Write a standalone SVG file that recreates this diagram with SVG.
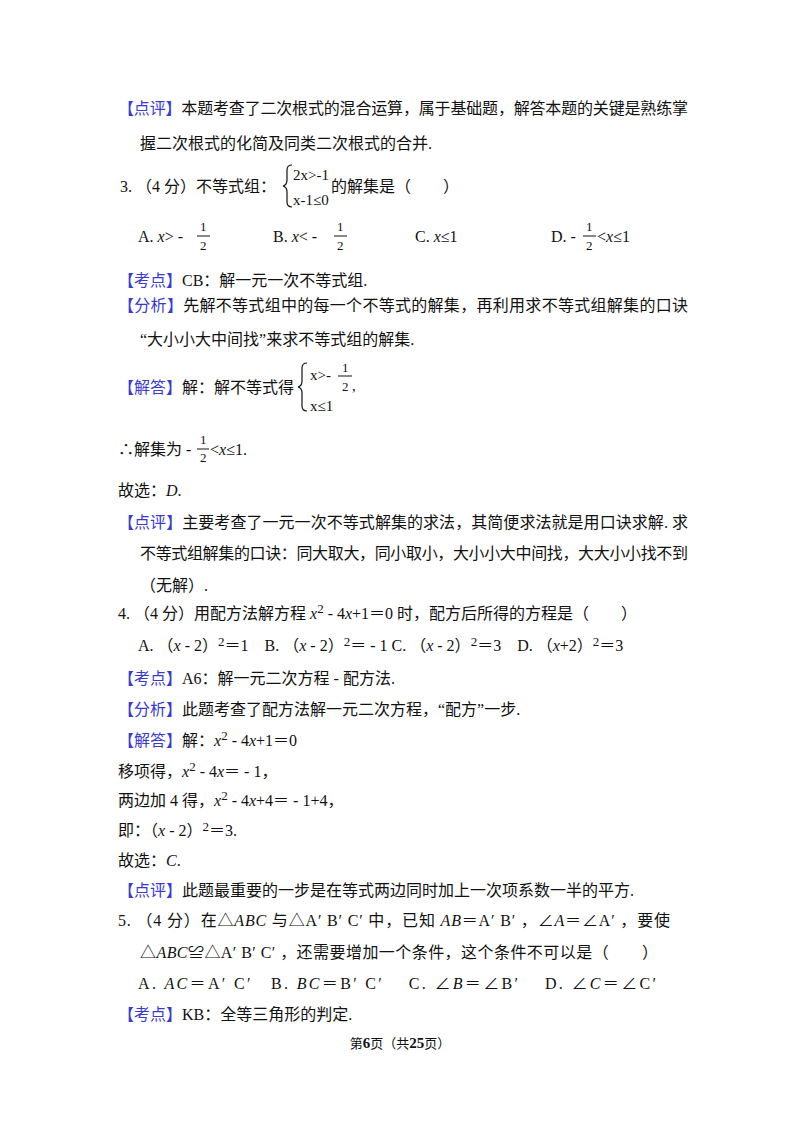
<svg xmlns="http://www.w3.org/2000/svg" width="800" height="1132" viewBox="0 0 800 1132">
<style>
text{font-family:"Liberation Serif","Noto Sans CJK SC",serif;font-size:16px;fill:#111}
.b{fill:#3a3ad0}
.i{font-style:italic}
.s{font-size:15px}
.f{font-size:13px}
line{stroke:#111;stroke-width:1}
.br{fill:none;stroke:#111;stroke-width:1.2}
</style>
<rect width="800" height="1132" fill="#fff"/>
<text x="118" y="114" textLength="570"><tspan class="b">【点评】</tspan>本题考查了二次根式的混合运算，属于基础题，解答本题的关键是熟练掌</text>
<text x="140" y="149">握二次根式的化简及同类二次根式的合并.</text>

<text x="120" y="192">3. （4 分）不等式组：</text>
<path class="br" d="M292,165 q-5,0 -5,5 v10 q0,5 -4,6 q4,1 4,6 v10 q0,5 5,5"/>
<text x="293" y="180" class="s">2x&gt;-1</text>
<text x="293" y="205" class="s">x-1≤0</text>
<text x="331" y="192">的解集是（　　）</text>

<text x="138" y="242">A. <tspan class="i">x</tspan>&gt; -</text>
<text x="200" y="231" class="f">1</text><line x1="197" y1="236" x2="210" y2="236"/><text x="200" y="250" class="f">2</text>
<text x="273" y="242">B. <tspan class="i">x</tspan>&lt; -</text>
<text x="337" y="231" class="f">1</text><line x1="334" y1="236" x2="347" y2="236"/><text x="337" y="250" class="f">2</text>
<text x="415" y="242">C. <tspan class="i">x</tspan>≤1</text>
<text x="551" y="242">D. -</text>
<text x="586" y="231" class="f">1</text><line x1="583" y1="236" x2="596" y2="236"/><text x="586" y="250" class="f">2</text>
<text x="597" y="242">&lt;<tspan class="i">x</tspan>≤1</text>

<text x="118" y="286"><tspan class="b">【考点】</tspan>CB：解一元一次不等式组.</text>
<text x="118" y="311" textLength="570"><tspan class="b">【分析】</tspan>先解不等式组中的每一个不等式的解集，再利用求不等式组解集的口诀</text>
<text x="140" y="345">“大小小大中间找”来求不等式组的解集.</text>

<text x="118" y="393"><tspan class="b">【解答】</tspan>解：解不等式得</text>
<path class="br" d="M307,363 q-5,0 -5,5 v13 q0,5 -4,6 q4,1 4,6 v13 q0,5 5,5"/>
<text x="310" y="380" class="s">x&gt;-</text>
<text x="342" y="372" class="f">1</text><line x1="338" y1="376" x2="352" y2="376"/><text x="342" y="391" class="f">2</text>
<text x="352" y="391" class="s">,</text>
<text x="310" y="411" class="s">x≤1</text>

<text x="118" y="455">∴解集为 -</text>
<text x="200" y="444" class="f">1</text><line x1="197" y1="449" x2="209" y2="449"/><text x="200" y="462" class="f">2</text>
<text x="210" y="455">&lt;<tspan class="i">x</tspan>≤1.</text>

<text x="118" y="496">故选：<tspan class="i">D</tspan>.</text>
<text x="118" y="528" textLength="570"><tspan class="b">【点评】</tspan>主要考查了一元一次不等式解集的求法，其简便求法就是用口诀求解. 求</text>
<text x="140" y="559" textLength="548">不等式组解集的口诀：同大取大，同小取小，大小小大中间找，大大小小找不到</text>
<text x="140" y="591">（无解）.</text>

<text x="118" y="619">4. （4 分）用配方法解方程 <tspan class="i">x</tspan><tspan class="f" dy="-6">2</tspan><tspan dy="6"> - 4</tspan><tspan class="i">x</tspan>+1＝0 时，配方后所得的方程是（　　）</text>
<text x="138" y="651">A. （<tspan class="i">x</tspan> - 2）<tspan class="f" dy="-5">2</tspan><tspan dy="5">＝1　B. （</tspan><tspan class="i">x</tspan> - 2）<tspan class="f" dy="-5">2</tspan><tspan dy="5">＝ - 1 C. （</tspan><tspan class="i">x</tspan> - 2）<tspan class="f" dy="-5">2</tspan><tspan dy="5">＝3　D. （</tspan><tspan class="i">x</tspan>+2）<tspan class="f" dy="-5">2</tspan><tspan dy="5">＝3</tspan></text>

<text x="118" y="684"><tspan class="b">【考点】</tspan>A6：解一元二次方程 - 配方法.</text>
<text x="118" y="715"><tspan class="b">【分析】</tspan>此题考查了配方法解一元二次方程，“配方”一步.</text>
<text x="118" y="746"><tspan class="b">【解答】</tspan>解：<tspan class="i">x</tspan><tspan class="f" dy="-6">2</tspan><tspan dy="6"> - 4</tspan><tspan class="i">x</tspan>+1＝0</text>
<text x="118" y="777">移项得，<tspan class="i">x</tspan><tspan class="f" dy="-6">2</tspan><tspan dy="6"> - 4</tspan><tspan class="i">x</tspan>＝ - 1，</text>
<text x="118" y="806">两边加 4 得，<tspan class="i">x</tspan><tspan class="f" dy="-6">2</tspan><tspan dy="6"> - 4</tspan><tspan class="i">x</tspan>+4＝ - 1+4，</text>
<text x="118" y="836">即：（<tspan class="i">x</tspan> - 2）<tspan class="f" dy="-5">2</tspan><tspan dy="5">＝3.</tspan></text>
<text x="118" y="866">故选：<tspan class="i">C</tspan>.</text>
<text x="118" y="896"><tspan class="b">【点评】</tspan>此题最重要的一步是在等式两边同时加上一次项系数一半的平方.</text>

<text x="118" y="926" textLength="552">5. （4 分）在△<tspan class="i">ABC</tspan> 与△A′ B′ C′ 中，已知 <tspan class="i">AB</tspan>＝A′ B′ ，∠<tspan class="i">A</tspan>＝∠A′ ，要使</text>
<text x="140" y="958" textLength="518">△<tspan class="i">ABC</tspan>≌△A′ B′ C′ ，还需要增加一个条件，这个条件不可以是（　　）</text>
<text x="138" y="989" textLength="518">A. <tspan class="i">AC</tspan>＝A′ C′　B. <tspan class="i">BC</tspan>＝B′ C′　 C. ∠<tspan class="i">B</tspan>＝∠B′　 D. ∠<tspan class="i">C</tspan>＝∠C′</text>
<text x="118" y="1020"><tspan class="b">【考点】</tspan>KB：全等三角形的判定.</text>

<text x="400" y="1048" text-anchor="middle" class="f">第<tspan font-weight="bold" font-size="15">6</tspan>页（共<tspan font-weight="bold" font-size="15">25</tspan>页）</text>
</svg>
